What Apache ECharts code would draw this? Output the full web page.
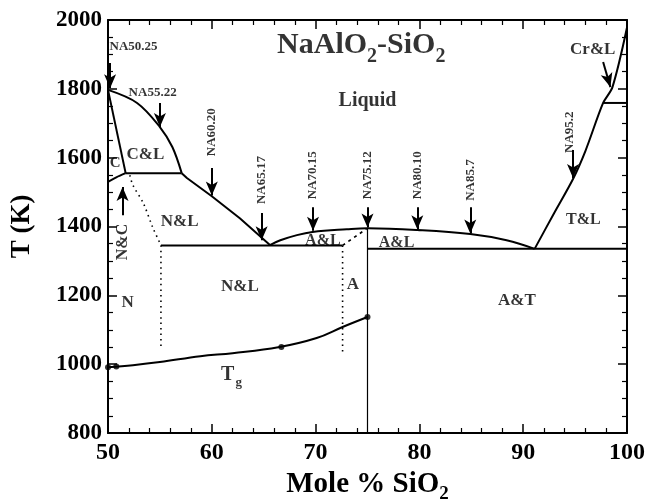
<!DOCTYPE html>
<html>
<head>
<meta charset="utf-8">
<script src="https://cdn.jsdelivr.net/npm/echarts@6/dist/echarts.min.js"></script>
<style>
  html, body { margin: 0; padding: 0; background: #fff; }
  #chart { width: 648px; height: 501px; }
</style>
</head>
<body>
<div id="chart"></div>
<script>
// NaAlO2–SiO2 phase diagram: composition (mole % SiO2) vs temperature (K)

// axis ranges and ticks
const xTicks = [50, 60, 70, 80, 90, 100];
const yTicks = [800, 1000, 1200, 1400, 1600, 1800, 2000];

// liquidus, NaAlO2-rich side (carnegieite field, then nepheline field)
const liqCarnegieite = [[50, 1797], [52.8, 1759], [55, 1689], [56.2, 1631], [57.1, 1555]];
const liqNepheline = [[57.1, 1555], [57.6, 1541], [60, 1488], [62.7, 1424], [65.6, 1346]];
// albite dome between the two eutectics
const liqAlbite = [[65.6, 1346], [66.6, 1360], [68.2, 1375], [69.7, 1384], [73, 1392], [75, 1395],
  [79.8, 1390], [84.9, 1378], [88.4, 1360], [91.1, 1335]];
// silica liquidus (tridymite, then cristobalite)
const liqSilica = [[91.1, 1335], [93, 1440], [94.8, 1538], [96, 1620], [97.7, 1759], [98.6, 1805], [100, 1978]];

// solid boundaries
const carnegieiteEdge = [[50, 1797], [51.7, 1555]];
const carnegieiteBase = [[50, 1530], [50.8, 1543], [51.7, 1555]];
const carnegieiteTie = [[51.7, 1555], [57.1, 1555]];
const cristobaliteTie = [[97.7, 1759], [100, 1759]];
const eutecticLeft = [[55.1, 1345], [72.6, 1345]];
const eutecticRight = [[75, 1335], [100, 1335]];
const albiteLine = [[75, 1395], [75, 800]];
// dotted / dashed solvus estimates
const nephelineSolvus = [[52.1, 1549], [52.4, 1520], [53.4, 1468], [54.3, 1398], [55, 1352], [55.1, 1345], [55.1, 1041]];
const albiteSolvus = [[72.6, 1345], [72.6, 1032]];
const albiteSolidus = [[72.6, 1345], [74.9, 1393]];

// glass transition temperature
const tgCurve = [[50, 991], [52.4, 997], [55, 1006], [58.9, 1023], [62, 1032], [66.4, 1049], [70.1, 1076],
  [72.6, 1108], [75, 1137]];
const tgPoints = [[50, 991], [50.8, 993], [66.7, 1050], [75, 1137]];

// samples: names, compositions, arrow start/end temperatures, label temperature
const sampleNames = ['NA50.25', 'NA55.22', 'NA60.20', 'NA65.17', 'NA70.15', 'NA75.12', 'NA80.10', 'NA85.7', 'NA95.2'];
const sampleX = [50.2, 55, 60, 64.8, 69.75, 75, 79.8, 84.9, 94.8];
const arrowFromT = [1875, 1759, 1570, 1439, 1456, 1456, 1456, 1456, 1622];
const arrowToT = [1802, 1689, 1490, 1360, 1388, 1397, 1392, 1380, 1541];
const sampleLabelX = [50.15, 54.3, 60, 64.8, 69.75, 75, 79.8, 84.9, 94.5];
const sampleLabelT = [1924, 1790, 1674, 1535, 1549, 1549, 1549, 1535, 1674];
const sampleRotated = [false, false, true, true, true, true, true, true, true];

// phase field labels
const fieldNames = ['Liquid', 'C&L', 'C', 'N&L', 'N', 'N&L', 'A&L', 'A&L', 'A', 'A&T', 'T&L', 'Cr&L'];
const fieldX = [75, 53.6, 50.7, 56.9, 51.9, 62.7, 70.7, 77.8, 73.6, 89.4, 95.8, 96.7];
const fieldT = [1765, 1608, 1585, 1413, 1180, 1224, 1358, 1352, 1230, 1186, 1419, 1913];
const fieldSize = [20, 17, 15, 17, 17, 17, 16, 16, 17, 17, 16, 17];

// N&C field label and its pointer
const ncLabel = [51.4, 1355];
const ncArrow = [[51.4, 1433], [51.4, 1515]];
// Cr&L pointer
const crArrow = [[97.7, 1878], [98.4, 1805]];

const FONT = '"Liberation Serif", "DejaVu Serif", serif';

function curve(data, opts) {
  return Object.assign({
    type: 'line', data: data, showSymbol: false, silent: true, z: 3,
    lineStyle: { color: '#000', width: 2 }
  }, opts || {});
}

const series = [
  curve(liqCarnegieite, { smooth: 0.35 }),
  curve(liqNepheline),
  curve(liqAlbite, { smooth: 0.4 }),
  curve(liqSilica, { smooth: 0.3 }),
  curve(carnegieiteEdge),
  curve(carnegieiteBase, { smooth: 0.3 }),
  curve(carnegieiteTie),
  curve(cristobaliteTie),
  curve(eutecticLeft),
  curve(eutecticRight),
  curve(albiteLine, { lineStyle: { color: '#000', width: 1.2 } }),
  curve(nephelineSolvus, { smooth: 0.3, lineStyle: { color: '#000', width: 1.6, type: [1.5, 4] } }),
  curve(albiteSolvus, { lineStyle: { color: '#000', width: 1.6, type: [1.5, 4] } }),
  curve(albiteSolidus, { lineStyle: { color: '#000', width: 1.6, type: [3, 4] } }),
  curve(tgCurve, { smooth: 0.4 }),
  {
    type: 'scatter', data: tgPoints, symbolSize: 6, silent: true, z: 4,
    itemStyle: { color: '#000' }
  },
  // sample arrows and field pointers
  {
    type: 'line', data: [], silent: true,
    markLine: {
      silent: true, animation: false,
      symbol: ['none', 'arrow'], symbolSize: [9, 14],
      lineStyle: { color: '#000', width: 2, type: 'solid' },
      label: { show: false },
      data: sampleX.map((x, i) => [{ coord: [x, arrowFromT[i]] }, { coord: [x, arrowToT[i]] }])
        .concat([
          [{ coord: crArrow[0] }, { coord: crArrow[1] }],
          [{ coord: ncArrow[0] }, { coord: ncArrow[1] }]
        ])
    }
  },
  // sample labels
  {
    type: 'scatter', symbolSize: 0, silent: true, z: 5,
    data: sampleNames.map((n, i) => ({
      name: n, value: [sampleLabelX[i], sampleLabelT[i]],
      label: sampleRotated[i]
        ? { rotate: 90, align: 'center', verticalAlign: 'middle' }
        : { align: i === 0 ? 'left' : 'center', verticalAlign: 'middle' }
    })),
    label: {
      show: true, position: [0, 0], formatter: p => p.name,
      fontFamily: FONT, fontWeight: 'bold', fontSize: 13, color: '#000'
    }
  },
  // phase field labels
  {
    type: 'scatter', symbolSize: 0, silent: true, z: 5,
    data: fieldNames.map((n, i) => ({
      name: n, value: [fieldX[i], fieldT[i]],
      label: { fontSize: fieldSize[i] }
    })),
    label: {
      show: true, position: [0, 0], align: 'center', verticalAlign: 'middle',
      formatter: p => p.name,
      fontFamily: FONT, fontWeight: 'bold', color: '#000'
    }
  },
  // N&C (rotated), title and Tg
  {
    type: 'scatter', symbolSize: 0, silent: true, z: 5,
    data: [
      { name: 'N&C', value: ncLabel, label: { rotate: 90, formatter: 'N&C', fontSize: 16 } },
      { name: 'title', value: [74.4, 1927], label: { formatter: '{b|NaAlO}{s|2}{b|-SiO}{s|2}' } },
      { name: 'Tg', value: [61.9, 968], label: { formatter: '{t|T}{g|g}' } }
    ],
    label: {
      show: true, position: [0, 0], align: 'center', verticalAlign: 'middle',
      fontFamily: FONT, fontWeight: 'bold', color: '#000',
      rich: {
        b: { fontFamily: FONT, fontWeight: 'bold', fontSize: 30, color: '#000', lineHeight: 32 },
        s: { fontFamily: FONT, fontWeight: 'bold', fontSize: 20, color: '#000', padding: [24, 0, 0, 0] },
        t: { fontFamily: FONT, fontWeight: 'bold', fontSize: 20, color: '#000' },
        g: { fontFamily: FONT, fontWeight: 'bold', fontSize: 13, color: '#000', padding: [14, 0, 0, 1] }
      }
    }
  }
];

const axisText = { fontFamily: FONT, fontWeight: 'bold', fontSize: 23, color: '#000', formatter: v => String(v) };

const option = {
  animation: false,
  backgroundColor: '#fff',
  grid: { left: 108, right: 21, top: 20, bottom: 68, containLabel: false, outerBoundsMode: 'none' },
  xAxis: [
    {
      type: 'value', min: 50, max: 100, interval: 10, position: 'bottom',
      axisLine: { onZero: false, lineStyle: { color: '#000', width: 2 } },
      axisTick: { inside: true, length: 9, lineStyle: { color: '#000', width: 1.5 } },
      minorTick: { show: true, splitNumber: 5, length: 5, lineStyle: { color: '#000', width: 1.2 } },
      splitLine: { show: false },
      axisLabel: Object.assign({ margin: 8, customValues: xTicks }, axisText, { fontSize: 24 }),
      name: '{m|Mole % SiO}{s|2}', nameLocation: 'middle', nameGap: 23,
      nameTextStyle: {
        rich: {
          m: { fontFamily: FONT, fontWeight: 'bold', fontSize: 29, color: '#000' },
          s: { fontFamily: FONT, fontWeight: 'bold', fontSize: 19, color: '#000', padding: [20, 0, 0, 0] }
        }
      }
    },
    {
      type: 'value', min: 50, max: 100, interval: 10, position: 'top',
      axisLine: { onZero: false, lineStyle: { color: '#000', width: 2 } },
      axisTick: { inside: true, length: 9, lineStyle: { color: '#000', width: 1.5 } },
      minorTick: { show: true, splitNumber: 5, length: 5, lineStyle: { color: '#000', width: 1.2 } },
      splitLine: { show: false }, axisLabel: { show: false }
    }
  ],
  yAxis: [
    {
      type: 'value', min: 800, max: 2000, interval: 200, position: 'left',
      axisLine: { onZero: false, lineStyle: { color: '#000', width: 2 } },
      axisTick: { inside: true, length: 9, lineStyle: { color: '#000', width: 1.5 } },
      minorTick: { show: true, splitNumber: 4, length: 5, lineStyle: { color: '#000', width: 1.2 } },
      splitLine: { show: false },
      axisLabel: Object.assign({ margin: 6, customValues: yTicks }, axisText),
      name: 'T (K)', nameLocation: 'middle', nameGap: 72,
      nameTextStyle: { fontFamily: FONT, fontWeight: 'bold', fontSize: 27, color: '#000' }
    },
    {
      type: 'value', min: 800, max: 2000, interval: 200, position: 'right',
      axisLine: { onZero: false, lineStyle: { color: '#000', width: 2 } },
      axisTick: { inside: true, length: 9, lineStyle: { color: '#000', width: 1.5 } },
      minorTick: { show: true, splitNumber: 4, length: 5, lineStyle: { color: '#000', width: 1.2 } },
      splitLine: { show: false }, axisLabel: { show: false }
    }
  ],
  series: series
};

const chart = echarts.init(document.getElementById('chart'), null, { renderer: 'canvas' });
chart.setOption(option);
</script>
</body>
</html>
